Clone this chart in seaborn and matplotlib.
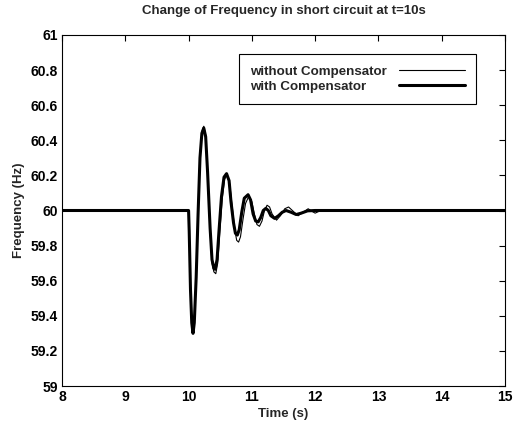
import pandas as pd
import matplotlib
matplotlib.use('Agg')
import matplotlib.pyplot as plt
import seaborn as sns

# without compensator (thin line)
t_without = [8.0, 10.0, 10.01, 10.03, 10.05, 10.07, 10.09, 10.12, 10.15, 10.18, 10.21, 10.24,
             10.27, 10.30, 10.34, 10.37, 10.40, 10.43, 10.46, 10.49, 10.53, 10.57, 10.61,
             10.65, 10.69, 10.73, 10.76, 10.79, 10.82, 10.86, 10.90, 10.95, 11.00, 11.04,
             11.08, 11.12, 11.16, 11.20, 11.24, 11.28, 11.32, 11.39, 11.45, 11.52, 11.58,
             11.64, 11.73, 11.81, 11.89, 11.95, 12.00, 12.06, 12.12, 12.18, 12.24, 12.40, 15.0]
f_without = [60.0, 60.0, 59.88, 59.55, 59.35, 59.31, 59.37, 59.63, 59.99, 60.31, 60.45, 60.48,
             60.43, 60.22, 59.88, 59.70, 59.65, 59.64, 59.70, 59.86, 60.06, 60.18, 60.20,
             60.15, 60.02, 59.89, 59.83, 59.82, 59.85, 59.95, 60.04, 60.08, 60.05, 59.98,
             59.92, 59.91, 59.94, 60.00, 60.03, 60.02, 59.98, 59.945, 59.97, 60.01, 60.02,
             60.00, 59.97, 59.99, 60.01, 59.995, 59.985, 59.995, 60.005, 59.998, 60.003, 60.0, 60.0]

# with compensator (thick line)
t_with = [8.0, 10.0, 10.01, 10.03, 10.05, 10.07, 10.09, 10.12, 10.15, 10.18, 10.21, 10.24,
          10.27, 10.30, 10.34, 10.37, 10.40, 10.42, 10.45, 10.48, 10.52, 10.56, 10.60,
          10.64, 10.67, 10.71, 10.74, 10.77, 10.80, 10.84, 10.88, 10.94, 10.98, 11.02,
          11.06, 11.10, 11.14, 11.18, 11.22, 11.26, 11.30, 11.36, 11.42, 11.48, 11.54,
          11.62, 11.70, 11.78, 11.88, 12.0, 15.0]
f_with = [60.0, 60.0, 59.88, 59.55, 59.36, 59.30, 59.36, 59.62, 59.98, 60.30, 60.44, 60.47,
          60.42, 60.22, 59.90, 59.72, 59.67, 59.665, 59.72, 59.88, 60.08, 60.19, 60.21,
          60.17, 60.05, 59.93, 59.87, 59.86, 59.89, 59.99, 60.07, 60.09, 60.06, 59.98,
          59.94, 59.935, 59.96, 60.00, 60.012, 60.0, 59.97, 59.955, 59.97, 59.99, 60.0,
          59.99, 59.977, 59.985, 59.998, 60.0, 60.0]

x_ticks = [8, 9, 10, 11, 12, 13, 14, 15]
y_ticks = [59, 59.2, 59.4, 59.6, 59.8, 60, 60.2, 60.4, 60.6, 60.8, 61]
y_tick_labels = ['59', '59.2', '59.4', '59.6', '59.8', '60', '60.2', '60.4', '60.6', '60.8', '61']


def plot_frequency():
    sns.set_style('white')
    plt.rcParams['font.family'] = ['Liberation Sans', 'DejaVu Sans']
    plt.rcParams['font.weight'] = 'bold'

    df_without = pd.DataFrame({'Time': t_without, 'Freq': f_without})
    df_with = pd.DataFrame({'Time': t_with, 'Freq': f_with})

    fig = plt.figure(figsize=(5.13, 4.21), dpi=100)
    ax = fig.add_axes([0.1209, 0.0831, 0.8635, 0.8338])

    sns.lineplot(data=df_without, x='Time', y='Freq', color='black', linewidth=0.8,
                 label='without Compensator', ax=ax, zorder=3)
    sns.lineplot(data=df_with, x='Time', y='Freq', color='black', linewidth=2.2,
                 label='with Compensator', ax=ax, zorder=2)

    ax.set_xlim(8, 15)
    ax.set_ylim(59, 61)
    ax.set_xticks(x_ticks)
    ax.set_xticklabels([str(v) for v in x_ticks], fontsize=10, fontweight='bold')
    ax.set_yticks(y_ticks)
    ax.set_yticklabels(y_tick_labels, fontsize=10, fontweight='bold')
    ax.tick_params(direction='in', length=4, width=0.8, top=True, right=True,
                   colors='black', pad=3)
    for s in ax.spines.values():
        s.set_color('black')
        s.set_linewidth(0.8)

    ax.set_title('Change of Frequency in short circuit at t=10s', fontsize=9.5,
                 fontweight='bold', pad=15)
    ax.set_xlabel('Time (s)', fontsize=9.5, fontweight='bold', labelpad=3)
    ax.set_ylabel('Frequency (Hz)', fontsize=9.5, fontweight='bold', labelpad=4)

    sep_pts = 0.9 * 9.6
    leg = ax.legend(loc='upper left', bbox_to_anchor=(0.40, 0.946), borderaxespad=0,
                    markerfirst=False, frameon=True, fancybox=False, framealpha=1,
                    edgecolor='black', prop={'size': 9.6, 'weight': 'bold'},
                    handlelength=4.9, borderpad=0.85, labelspacing=0.2, handletextpad=0.9)
    leg.get_frame().set_linewidth(0.8)

    # labels left, line samples lined up on the right (MATLAB style)
    fig.canvas.draw()
    widths = [t.get_window_extent().width for t in leg.texts]
    wmax = max(widths)
    rows = leg._legend_handle_box.get_children()[0].get_children()
    for row, w in zip(rows, widths):
        row.sep = sep_pts + (wmax - w) * 72.0 / fig.dpi

    plt.savefig('out.png', dpi=100)
    plt.close()


if __name__ == "__main__":
    plot_frequency()
